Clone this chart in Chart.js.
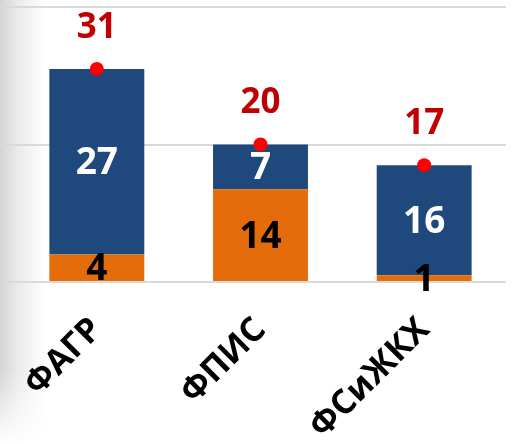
<!DOCTYPE html>
<html>
<head>
<meta charset="utf-8">
<script src="https://cdn.jsdelivr.net/npm/chart.js@4/dist/chart.umd.min.js"></script>
<style>
  html, body { margin: 0; padding: 0; background: #fff; }
  #wrap { width: 513px; height: 444px; }
</style>
</head>
<body>
<div id="wrap"><canvas id="chart" width="513" height="444"></canvas></div>
<script>
// категории и значения (подписи на столбцах округлены)
const faculties = ['ФАГР', 'ФПИС', 'ФСиЖКХ'];
const orangePart = [4, 13.5, 1];
const bluePart = [27, 6.5, 16];
const totals = [31, 20, 17];
const yTicks = [0, 20, 40];

const FONT = "'Open Sans', 'Noto Sans', sans-serif";

/* ===== серая тень слева ===== */
const shadowPlugin = {
  id: 'leftShadow',
  beforeDraw(chart) {
    const c = chart.ctx;
    c.save();
    const g = c.createLinearGradient(0, 0, 46, 0);
    g.addColorStop(0, 'rgba(0,0,0,0.17)');
    g.addColorStop(0.4, 'rgba(0,0,0,0.08)');
    g.addColorStop(1, 'rgba(0,0,0,0)');
    c.fillStyle = g;
    c.fillRect(0, 0, 46, 444);
    const g2 = c.createLinearGradient(0, 370, 0, 444);
    g2.addColorStop(0, 'rgba(255,255,255,0)');
    g2.addColorStop(1, 'rgba(255,255,255,1)');
    c.fillStyle = g2;
    c.fillRect(0, 370, 46, 74);
    c.restore();
  }
};

/* ===== подписи значений ===== */
const labelsPlugin = {
  id: 'valueLabels',
  afterDatasetsDraw(chart) {
    const c = chart.ctx;
    c.save();
    c.textAlign = 'center';
    c.textBaseline = 'middle';
    [0, 1].forEach(di => {
      const meta = chart.getDatasetMeta(di);
      const vals = chart.data.datasets[di].data;
      meta.data.forEach((bar, i) => {
        const mid = (bar.y + bar.base) / 2;
        c.font = 'bold 37px ' + FONT;
        c.fillStyle = di === 0 ? '#000000' : '#ffffff';
        c.fillText(String(Math.round(vals[i])), bar.x, mid + 2);
      });
    });
    const pts = chart.getDatasetMeta(2);
    pts.data.forEach((p, i) => {
      c.font = 'bold 35px ' + FONT;
      c.fillStyle = '#C00000';
      c.fillText(String(totals[i]), p.x, p.y - 41);
    });
    c.restore();
  }
};

new Chart(document.getElementById('chart'), {
  type: 'bar',
  data: {
    labels: faculties,
    datasets: [
      { label: 'orange', data: orangePart, backgroundColor: '#E46C0A', stack: 's', order: 2,
        categoryPercentage: 1, barPercentage: 0.58 },
      { label: 'blue', data: bluePart, backgroundColor: '#1F497D', stack: 's', order: 2,
        categoryPercentage: 1, barPercentage: 0.58 },
      { type: 'line', label: 'total', data: totals, showLine: false, order: 1,
        pointRadius: 7, pointBackgroundColor: '#FF0000', pointBorderWidth: 0 }
    ]
  },
  options: {
    responsive: false,
    animation: false,
    layout: { padding: { left: 0, right: 6, top: 5, bottom: 0 } },
    plugins: { legend: { display: false }, tooltip: { enabled: false } },
    scales: {
      x: {
        stacked: true,
        grid: { display: false },
        border: { display: false },
        afterFit(axis) { axis.height = 162; },
        ticks: {
          color: '#000',
          font: { family: FONT, size: 34, weight: 'bold' },
          minRotation: 45, maxRotation: 45,
          padding: 20
        }
      },
      y: {
        stacked: true,
        min: 0, max: 40,
        afterBuildTicks(axis) { axis.ticks = yTicks.map(v => ({ value: v })); },
        grid: { color: '#D9D9D9', lineWidth: 2, drawTicks: true, tickLength: 15 },
        border: { display: false },
        ticks: { display: false }
      }
    }
  },
  plugins: [shadowPlugin, labelsPlugin]
});
</script>
</body>
</html>
